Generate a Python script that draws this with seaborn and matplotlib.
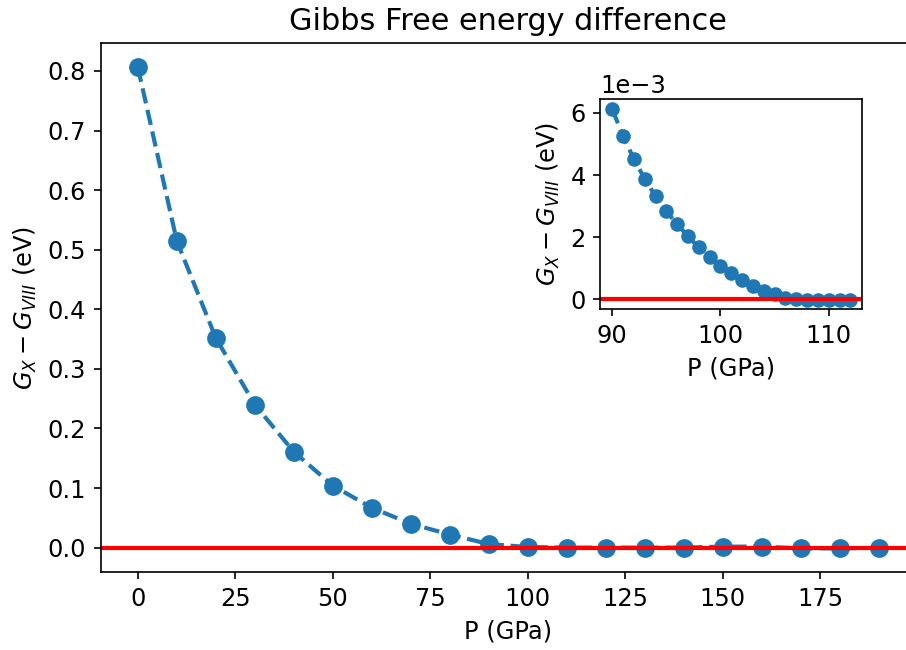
import matplotlib
matplotlib.use("Agg")
import matplotlib.pyplot as plt
import seaborn as sns
import numpy as np

# Main data
pressure = [0, 10, 20, 30, 40, 50, 60, 70, 80, 90,
            100, 110, 120, 130, 140, 150, 160, 170, 180, 190]
dG = [0.807, 0.515, 0.352, 0.240, 0.161, 0.104, 0.067, 0.040, 0.022, 0.006,
      0.001, 0.0, 0.0, 0.0, 0.0, 0.0017, 0.0017, -0.0013, -0.0013, -0.0003]

# Inset data (values in eV)
pressure_in = [90, 91, 92, 93, 94, 95, 96, 97, 98, 99, 100, 101,
               102, 103, 104, 105, 106, 107, 108, 109, 110, 111, 112]
dG_in = [6.13e-3, 5.25e-3, 4.52e-3, 3.88e-3, 3.32e-3, 2.83e-3, 2.42e-3,
         2.03e-3, 1.67e-3, 1.35e-3, 1.08e-3, 0.84e-3, 0.62e-3, 0.43e-3,
         0.28e-3, 0.16e-3, 0.05e-3, 0.01e-3, -0.01e-3, -0.01e-3,
         -0.01e-3, -0.01e-3, -0.01e-3]

color = "#1f77b4"
FS = 11.6
W, H = 906, 650
fig = plt.figure(figsize=(W / 150, H / 150), dpi=150)

ax = fig.add_axes([100.7 / W, 1 - 572.3 / H, (915.8 - 100.7) / W, (572.3 - 42.7) / H])
sns.lineplot(x=pressure, y=dG, ax=ax, color=color, linestyle="--", linewidth=2,
             marker="o", markersize=8, markeredgecolor=color, markeredgewidth=1)
ax.axhline(0, color="red", linewidth=2)
ax.set_xlim(-9.5, 199.5)
ax.set_ylim(-0.0414, 0.8474)
ax.set_xticks([0, 25, 50, 75, 100, 125, 150, 175])
ax.set_title("Gibbs Free energy difference", fontsize=14.5)
ax.set_xlabel("P (GPa)", fontsize=FS)
ax.set_ylabel("$G_X - G_{VIII}$ (eV)", fontsize=FS)
ax.tick_params(labelsize=FS)

axi = fig.add_axes([600.3 / W, 1 - 309.3 / H, (862.3 - 600.3) / W, (309.3 - 99.3) / H])
sns.lineplot(x=pressure_in, y=dG_in, ax=axi, color=color, linestyle="--", linewidth=2,
             marker="o", markersize=6, markeredgecolor=color, markeredgewidth=1)
axi.axhline(0, color="red", linewidth=2)
axi.set_xlim(88.9, 113.1)
axi.set_ylim(-0.32e-3, 6.44e-3)
axi.set_xticks([90, 100, 110])
axi.set_yticks([0, 2e-3, 4e-3, 6e-3])
axi.ticklabel_format(style="sci", axis="y", scilimits=(0, 0))
axi.set_xlabel("P (GPa)", fontsize=FS)
axi.set_ylabel("$G_X - G_{VIII}$ (eV)", fontsize=FS)
axi.tick_params(labelsize=FS)
axi.yaxis.get_offset_text().set_fontsize(FS)

fig.savefig("out.png", dpi=150)
